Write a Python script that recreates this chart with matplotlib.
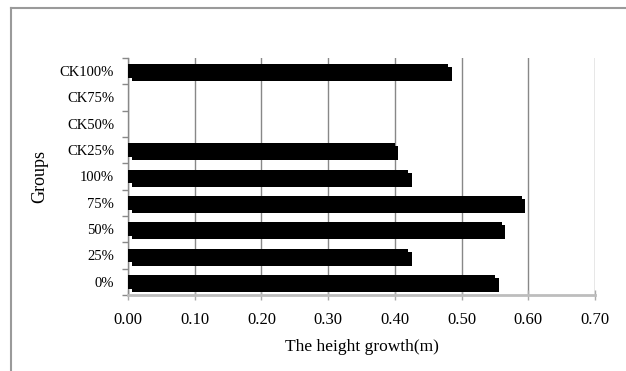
import matplotlib.pyplot as plt
import matplotlib.patheffects as pe
import matplotlib.transforms as mtransforms
import numpy as np

# data
groups = ["0%", "25%", "50%", "75%", "100%", "CK25%", "CK50%", "CK75%", "CK100%"]
growth = [0.55, 0.42, 0.56, 0.59, 0.42, 0.40, np.nan, np.nan, 0.48]
xticks = [0.0, 0.1, 0.2, 0.3, 0.4, 0.5, 0.6, 0.7]

plt.rcParams['font.family'] = ['Liberation Serif', 'DejaVu Serif']

fig = plt.figure(figsize=(6.26, 3.71), dpi=100)
ax = fig.add_axes([0.2045, 0.2049, 0.746, 0.6388])

# chart frame (top and left edges only)
fig.add_artist(plt.Line2D([0.0176, 1.0], [0.978, 0.978], color='#9a9a9a', lw=1.5,
                          transform=fig.transFigure))
fig.add_artist(plt.Line2D([0.0176, 0.0176], [0.0, 0.978], color='#9a9a9a', lw=1.5,
                          transform=fig.transFigure))

pos = np.arange(len(groups))
bars = ax.barh(pos, growth, height=0.53, color='black', zorder=3)
for b in bars:
    b.set_path_effects([pe.SimplePatchShadow(offset=(2.6, -2.2), shadow_rgbFace='black', alpha=1.0),
                        pe.Normal()])

ax.set_xlim(0, 0.7)
ax.set_ylim(-0.5, len(groups) - 0.5)
ax.set_xticks(xticks)
ax.set_xticklabels([f"{v:.2f}" for v in xticks], fontsize=12)
ax.set_yticks(pos)
ax.set_yticklabels(groups, fontsize=10.5)
ax.set_yticks(np.arange(len(groups) + 1) - 0.5, minor=True)

# nudge the value labels a little to the left
shift = mtransforms.ScaledTranslation(-4 / 100, 0, fig.dpi_scale_trans)
for lab in ax.get_xticklabels():
    lab.set_transform(lab.get_transform() + shift)

ax.grid(axis='x', color='#888888', lw=1.0, zorder=0)
for s in ['top', 'right']:
    ax.spines[s].set_visible(False)
ax.spines['left'].set_color('#888888')
ax.spines['left'].set_linewidth(1.0)
ax.spines['bottom'].set_color('#bdbdbd')
ax.spines['bottom'].set_linewidth(2.0)

ax.tick_params(axis='y', which='major', length=0, pad=10)
ax.tick_params(axis='y', which='minor', length=4, color='#888888', width=1.0)
ax.tick_params(axis='x', direction='inout', length=7, color='#aaaaaa', width=1.0, pad=9)

ax.set_xlabel("The height growth(m)", fontsize=12.5, labelpad=8)
ax.set_ylabel("Groups", fontsize=13, labelpad=8)

fig.savefig("out.png", dpi=100, facecolor='white')
